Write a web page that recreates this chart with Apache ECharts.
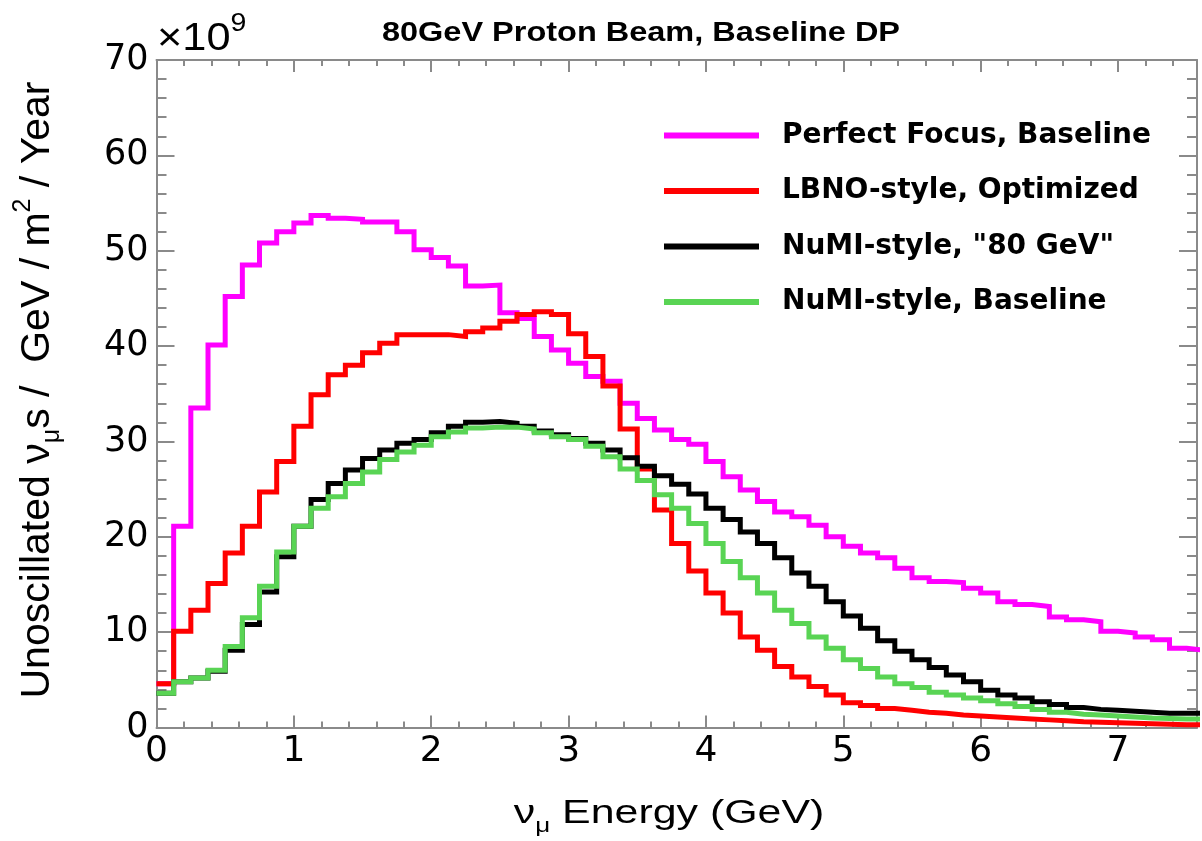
<!DOCTYPE html>
<html>
<head>
<meta charset="utf-8">
<script src="https://cdn.jsdelivr.net/npm/echarts@6/dist/echarts.min.js"></script>
<style>
html,body{margin:0;padding:0;background:#fff;}
#chart{width:1202px;height:841px;}
</style>
</head>
<body>
<div id="chart"></div>
<script>
// Histogram bin width (GeV); values are per 0.125 GeV bin starting at 0
const BIN_WIDTH = 0.125;
const X_MAX = 7.575;

const seriesNames = [
  'Perfect Focus, Baseline',
  'LBNO-style, Optimized',
  'NuMI-style, "80 GeV"',
  'NuMI-style, Baseline'
];

// Units of 1e9 nu_mu / GeV / m^2 / Year
const perfectFocus = [
  4.6, 21.1, 33.5, 40.1, 45.2, 48.5, 50.8, 52.0, 52.9, 53.7,
  53.4, 53.3, 53.0, 53.0, 52.0, 50.1, 49.3, 48.4, 46.3, 46.4,
  43.5, 42.9, 41.0, 39.6, 38.2, 36.8, 36.3, 34.0, 32.4, 31.2,
  30.2, 29.7, 27.9, 26.3, 24.9, 23.7, 22.6, 22.1, 21.2, 20.0,
  19.0, 18.3, 17.8, 16.7, 15.7, 15.3, 15.2, 14.6, 14.1, 13.2,
  12.9, 12.7, 11.6, 11.3, 11.1, 10.1, 9.9, 9.5, 9.2, 8.3, 8.1
];
const lbnoOptimized = [
  4.6, 10.1, 12.3, 15.1, 18.3, 21.1, 24.7, 27.9, 31.6, 34.9,
  37.0, 38.0, 39.3, 40.3, 41.2, 41.2, 41.2, 41.0, 41.5, 41.9,
  42.6, 43.3, 43.6, 43.3, 41.3, 38.9, 35.8, 31.3, 27.1, 22.8,
  19.3, 16.4, 14.1, 12.0, 9.5, 8.1, 6.4, 5.3, 4.3, 3.4,
  2.6, 2.3, 2.0, 1.8, 1.6, 1.5, 1.3, 1.2, 1.1, 1.0,
  0.9, 0.8, 0.7, 0.6, 0.55, 0.5, 0.45, 0.4, 0.35, 0.3, 0.3
];
const numi80 = [
  3.6, 4.8, 5.2, 5.9, 8.1, 10.8, 14.2, 17.9, 21.1, 23.9,
  25.6, 27.0, 28.2, 29.1, 29.8, 30.2, 30.9, 31.6, 32.0, 32.1,
  31.9, 31.6, 31.1, 30.7, 30.3, 29.8, 29.1, 28.3, 27.4, 26.4,
  25.5, 24.5, 23.0, 21.8, 20.5, 19.3, 17.8, 16.2, 14.8, 13.2,
  11.7, 10.4, 9.1, 8.0, 7.1, 6.3, 5.5, 4.8, 3.9, 3.4,
  3.1, 2.7, 2.4, 2.1, 1.9, 1.8, 1.7, 1.6, 1.5, 1.5, 1.5
];
const numiBaseline = [
  3.6, 4.8, 5.2, 6.0, 8.5, 11.5, 14.8, 18.4, 21.1, 23.0,
  24.2, 25.6, 26.8, 28.1, 28.9, 29.6, 30.5, 31.0, 31.4, 31.5,
  31.5, 31.3, 30.9, 30.5, 30.2, 29.5, 28.4, 27.1, 25.9, 24.4,
  23.0, 21.4, 19.3, 17.4, 15.7, 14.1, 12.3, 10.9, 9.5, 8.3,
  7.1, 6.2, 5.3, 4.6, 4.2, 3.7, 3.4, 3.1, 2.8, 2.5,
  2.2, 1.9, 1.6, 1.4, 1.3, 1.2, 1.1, 1.0, 0.95, 0.9, 0.9
];

const xTickInterval = 1;
const yTickInterval = 10;
const yMax = 70;

const colors = ['#ff00ff', '#ff0000', '#000000', '#59d454'];
const FONT = 'Liberation Sans, Arial, Helvetica, sans-serif';
const WIDE_FONT = 'DejaVu Sans, Verdana, sans-serif';

function toSteps(vals) {
  const pts = vals.map((v, i) => [i * BIN_WIDTH, v]);
  pts.push([vals.length * BIN_WIDTH, vals[vals.length - 1]]);
  return pts;
}

const allSeries = [perfectFocus, lbnoOptimized, numi80, numiBaseline];

const frameColor = '#8a8a8a';
function axisCommon(extra) {
  return Object.assign({
    type: 'value',
    axisLine: { show: true, onZero: false, lineStyle: { color: frameColor, width: 2 } },
    splitLine: { show: false },
    minorSplitLine: { show: false }
  }, extra);
}

const chart = echarts.init(document.getElementById('chart'), null, { renderer: 'canvas' });

const xTick = { show: true, inside: true, length: 12, lineStyle: { color: frameColor, width: 2 } };
const xMinor = { show: true, splitNumber: 5, length: 6, lineStyle: { color: frameColor, width: 2 } };
const yTick = { show: true, inside: true, length: 18, lineStyle: { color: frameColor, width: 2 } };
const yMinor = { show: true, splitNumber: 5, length: 10, lineStyle: { color: frameColor, width: 2 } };

const option = {
  animation: false,
  backgroundColor: '#ffffff',
  color: colors,
  grid: { left: 156.5, right: 5, top: 60, bottom: 113.5, containLabel: false, outerBoundsMode: 'none' },
  xAxis: [
    axisCommon({
      min: 0, max: X_MAX, interval: xTickInterval, position: 'bottom',
      axisTick: xTick, minorTick: xMinor,
      axisLabel: { show: true, showMaxLabel: false, fontSize: 36, color: '#000', margin: 6, fontFamily: WIDE_FONT }
    }),
    axisCommon({
      min: 0, max: X_MAX, interval: xTickInterval, position: 'top',
      axisTick: xTick, minorTick: xMinor,
      axisLabel: { show: false }
    })
  ],
  yAxis: [
    axisCommon({
      min: 0, max: yMax, interval: yTickInterval, position: 'left',
      axisTick: yTick, minorTick: yMinor,
      axisLabel: { show: true, fontSize: 35, color: '#000', margin: 8, fontFamily: WIDE_FONT }
    }),
    axisCommon({
      min: 0, max: yMax, interval: yTickInterval, position: 'right',
      axisTick: yTick, minorTick: yMinor,
      axisLabel: { show: false }
    })
  ],
  legend: {
    orient: 'vertical',
    left: 664,
    top: 118.5,
    padding: 0,
    icon: 'rect',
    itemWidth: 95,
    itemHeight: 6,
    itemGap: 21.5,
    textStyle: { fontSize: 28, fontWeight: 'bold', color: '#000', fontFamily: WIDE_FONT, lineHeight: 34, padding: [0, 0, 0, 18] },
    data: seriesNames
  },
  series: allSeries.map((vals, i) => ({
    name: seriesNames[i],
    type: 'line',
    step: 'end',
    xAxisIndex: 0,
    yAxisIndex: 0,
    showSymbol: false,
    symbol: 'none',
    clip: true,
    lineStyle: { color: colors[i], width: 5, join: 'miter' },
    itemStyle: { color: colors[i] },
    data: toSteps(vals),
    z: 2 + i
  })),
  graphic: [
    {
      type: 'text', x: 641, y: 33, z: 100, scaleX: 1.16,
      style: {
        text: '80GeV Proton Beam, Baseline DP',
        fontSize: 28, fontWeight: 'bold', fontFamily: FONT, fill: '#000',
        align: 'center', verticalAlign: 'middle'
      }
    },
    {
      type: 'text', x: 157, y: 40, z: 100, scaleX: 1.14,
      style: {
        text: '×10{sup|9}',
        fontSize: 38, fontFamily: FONT, fill: '#000', align: 'left', verticalAlign: 'middle',
        lineHeight: 56,
        rich: {
          sup: { fontSize: 25, fontFamily: FONT, fill: '#000', verticalAlign: 'top', lineHeight: 25 }
        }
      }
    },
    {
      type: 'text', x: 669, y: 814, z: 100, scaleX: 1.3,
      style: {
        text: 'ν{sub|μ} Energy (GeV)',
        fontSize: 33, fontFamily: FONT, fill: '#000', align: 'center', verticalAlign: 'middle',
        lineHeight: 44,
        rich: {
          sub: { fontSize: 20, fontFamily: FONT, fill: '#000', verticalAlign: 'bottom', lineHeight: 20 }
        }
      }
    },
    {
      type: 'text', x: 38, y: 390, z: 100, rotation: Math.PI / 2,
      style: {
        text: 'Unoscillated ν{sub|μ}s /  GeV / m{sup|2} / Year',
        fontSize: 41, fontFamily: FONT, fill: '#000', align: 'center', verticalAlign: 'middle',
        lineHeight: 54,
        rich: {
          sub: { fontSize: 25, fontFamily: FONT, fill: '#000', verticalAlign: 'bottom', lineHeight: 25 },
          sup: { fontSize: 25, fontFamily: FONT, fill: '#000', verticalAlign: 'top', lineHeight: 25 }
        }
      }
    }
  ]
};

chart.setOption(option);
</script>
</body>
</html>
